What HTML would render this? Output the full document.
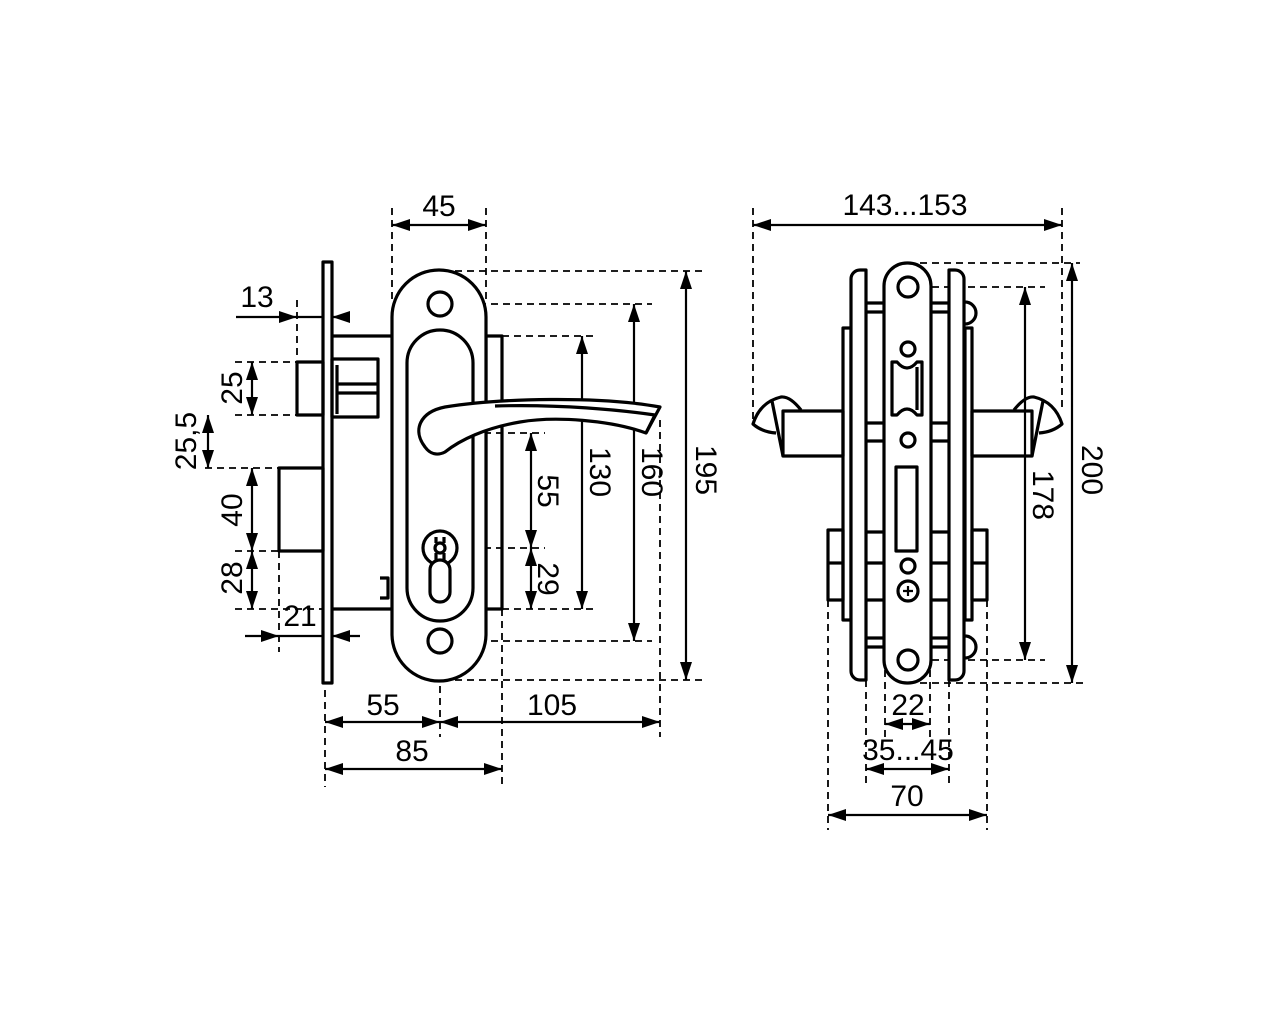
<!DOCTYPE html>
<html><head><meta charset="utf-8"><style>
html,body{margin:0;padding:0;background:#fff;}
svg{display:block;}
text{font-family:"Liberation Sans Narrow","Liberation Sans",sans-serif;font-size:30px;fill:#000;}
</style></head><body>
<svg width="1280" height="1024" viewBox="0 0 1280 1024" xmlns="http://www.w3.org/2000/svg">
<g fill="none" stroke="#000" stroke-width="1.8" stroke-dasharray="7,5">
<path d="M392,208V300 M486,208V300"/>
<path d="M297,300V360"/>
<path d="M235,362H297 M235,415H300 M205,468H279 M235,551H279 M235,609H323"/>
<path d="M279,551V652"/>
<path d="M455,271H702 M455,304H652 M502,336H598 M460,433H545 M460,548H545 M502,609H598 M455,641H652 M455,680H702"/>
<path d="M325,690V787 M440,650V737 M502,609V787 M660,420V737"/>
<path d="M753,208V420 M1062,208V412"/>
<path d="M920,263H1080 M920,287H1045 M920,660H1045 M920,683H1085"/>
<path d="M828,600V830 M866,680V785 M885,670V740 M930,670V740 M949,680V785 M987,600V830"/>
</g>
<g fill="none" stroke="#000" stroke-width="2.2">
<path d="M392,225H486"/>
<path d="M252,362V415 M208,415V468 M252,468V551 M252,551V609"/>
<path d="M531,433V548 M531,548V609 M582,336V609 M634,304V641 M686,271V680"/>
<path d="M325,722H440 M440,722H660 M325,769H502"/>
<path d="M753,225H1062 M1025,287V660 M1072,263V683"/>
<path d="M885,724H930 M866,769H949 M828,815H987"/>
<path d="M236,317H350 M245,636H360"/>
</g>
<g fill="#000">
<polygon points="392,225 410,219 410,231"/><polygon points="486,225 468,219 468,231"/>
<polygon points="325,722 343,716 343,728"/><polygon points="440,722 422,716 422,728"/>
<polygon points="440,722 458,716 458,728"/><polygon points="660,722 642,716 642,728"/>
<polygon points="325,769 343,763 343,775"/><polygon points="502,769 484,763 484,775"/>
<polygon points="753,225 771,219 771,231"/><polygon points="1062,225 1044,219 1044,231"/>
<polygon points="885,724 903,718 903,730"/><polygon points="930,724 912,718 912,730"/>
<polygon points="866,769 884,763 884,775"/><polygon points="949,769 931,763 931,775"/>
<polygon points="828,815 846,809 846,821"/><polygon points="987,815 969,809 969,821"/>
<polygon points="252,362 246,380 258,380"/><polygon points="252,415 246,397 258,397"/>
<polygon points="208,415 202,433 214,433"/><polygon points="208,468 202,450 214,450"/>
<polygon points="252,468 246,486 258,486"/><polygon points="252,551 246,533 258,533"/>
<polygon points="252,551 246,569 258,569"/><polygon points="252,609 246,591 258,591"/>
<polygon points="531,433 525,451 537,451"/><polygon points="531,548 525,530 537,530"/>
<polygon points="531,548 525,566 537,566"/><polygon points="531,609 525,591 537,591"/>
<polygon points="582,336 576,354 588,354"/><polygon points="582,609 576,591 588,591"/>
<polygon points="634,304 628,322 640,322"/><polygon points="634,641 628,623 640,623"/>
<polygon points="686,271 680,289 692,289"/><polygon points="686,680 680,662 692,662"/>
<polygon points="1025,287 1019,305 1031,305"/><polygon points="1025,660 1019,642 1031,642"/>
<polygon points="1072,263 1066,281 1078,281"/><polygon points="1072,683 1066,665 1078,665"/>
<polygon points="297,317 279,311 279,323"/><polygon points="332,317 350,311 350,323"/>
<polygon points="279,636 261,630 261,642"/><polygon points="332,636 350,630 350,642"/>
</g>
<g fill="none" stroke="#000" stroke-width="3.2" stroke-linejoin="round">
<rect x="323" y="262" width="9" height="421" fill="#fff"/>
<path d="M332,336H392 M332,609H392"/>
<rect x="297" y="362" width="26" height="53"/>
<rect x="332" y="359" width="46" height="58"/>
<path d="M337,384H378 M337,393H378 M337,365V414"/>
<rect x="279" y="468" width="44" height="83"/>
<path d="M380,578h8v20h-8" />
<rect x="486" y="336" width="16" height="273"/>
<rect x="392" y="270" width="94" height="411" rx="47" fill="#fff"/>
<rect x="407" y="330" width="66" height="291" rx="33"/>
<circle cx="440" cy="304" r="12"/>
<circle cx="440" cy="641" r="12"/>
<circle cx="440" cy="548" r="17"/>
<circle cx="440" cy="548" r="5"/>
<path d="M436,553V562 M444,553V562 M436,543V537 M444,543V537"/>
<rect x="430" y="560" width="20" height="42" rx="10" fill="#fff"/>
<path d="M425,447 C412,430 420,412 445,407 C500,398 600,396 660,407 L646,433 C610,420 555,416 520,422 C485,428 460,440 445,452 C437,456 430,454 425,447 Z" fill="#fff"/>
<path d="M495,406 C560,404 620,410 655,415 L646,433"/>
</g>
<g fill="none" stroke="#000" stroke-width="3.2" stroke-linejoin="round">
<rect x="828" y="530" width="15" height="70"/><path d="M828,563H843"/>
<rect x="972" y="530" width="15" height="70"/><path d="M972,563H987"/>
<rect x="843" y="328" width="8" height="292"/>
<rect x="965" y="328" width="7" height="292"/>
<rect x="783" y="411" width="60" height="45"/>
<rect x="972" y="411" width="60" height="45"/>
<path d="M801,410 Q790,396 781,397 Q760,402 753,424 Q762,432 776,433 M772,401 L783,456" />
<path d="M1014,410 Q1025,396 1034,397 Q1055,402 1062,424 Q1053,432 1039,433 M1043,401 L1032,456"/>
<path d="M866,303H884 M866,312H884 M866,423H884 M866,441H884 M866,532H884 M866,563H884 M866,600H884 M866,638H884 M866,647H884"/>
<path d="M931,303H949 M931,312H949 M931,423H949 M931,441H949 M931,532H949 M931,563H949 M931,600H949 M931,638H949 M931,647H949"/>
<path d="M965,302 a9,9 0 0 1 0,22 M965,636 a9,9 0 0 1 0,22"/>
<path d="M866,680 H860 a9,9 0 0 1 -9,-9 V279 a9,9 0 0 1 9,-9 H866 Z" fill="#fff"/>
<path d="M949,680 H955 a9,9 0 0 0 9,-9 V279 a9,9 0 0 0 -9,-9 H949 Z" fill="#fff"/>
<rect x="884" y="263" width="47" height="420" rx="23" fill="#fff"/>
<circle cx="908" cy="287" r="10"/>
<circle cx="908" cy="660" r="10"/>
<circle cx="908" cy="349" r="7"/>
<circle cx="908" cy="440" r="7"/>
<circle cx="908" cy="566" r="7"/>
<circle cx="908" cy="591" r="10"/>
<path d="M903,591H913 M908,586V596" stroke-width="2.2"/>
<path d="M892,362H897 Q907,374 917,362 H922 V415 H917 Q907,403 897,415 H892 Z"/>
<path d="M917,367V410"/>
<rect x="896" y="467" width="21" height="84"/>
</g>
<text x="439" y="216" text-anchor="middle">45</text>
<text x="257" y="307" text-anchor="middle">13</text>
<text x="300" y="626" text-anchor="middle">21</text>
<text transform="translate(242,388) rotate(-90)" text-anchor="middle">25</text>
<text transform="translate(196,441) rotate(-90)" text-anchor="middle">25,5</text>
<text transform="translate(242,510) rotate(-90)" text-anchor="middle">40</text>
<text transform="translate(242,578) rotate(-90)" text-anchor="middle">28</text>
<text transform="translate(538,491) rotate(90)" text-anchor="middle">55</text>
<text transform="translate(538,579) rotate(90)" text-anchor="middle">29</text>
<text transform="translate(590,472) rotate(90)" text-anchor="middle">130</text>
<text transform="translate(642,472) rotate(90)" text-anchor="middle">160</text>
<text transform="translate(696,470) rotate(90)" text-anchor="middle">195</text>
<text x="383" y="715" text-anchor="middle">55</text>
<text x="552" y="715" text-anchor="middle">105</text>
<text x="412" y="761" text-anchor="middle">85</text>
<text x="905" y="215" text-anchor="middle">143...153</text>
<text transform="translate(1033,495) rotate(90)" text-anchor="middle">178</text>
<text transform="translate(1082,470) rotate(90)" text-anchor="middle">200</text>
<text x="908" y="715" text-anchor="middle">22</text>
<text x="908" y="760" text-anchor="middle">35...45</text>
<text x="907" y="806" text-anchor="middle">70</text>
</svg>
</body></html>
